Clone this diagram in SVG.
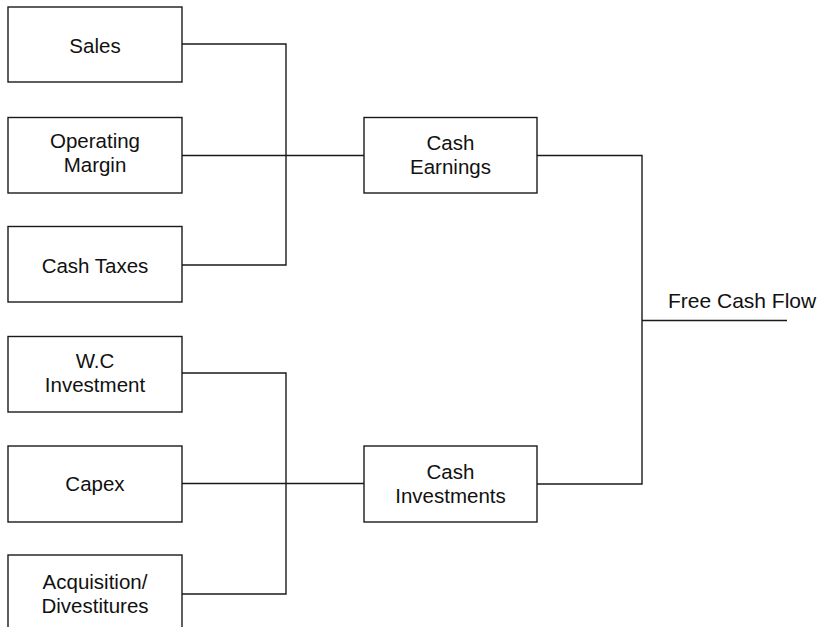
<svg xmlns="http://www.w3.org/2000/svg" width="820" height="627" viewBox="0 0 820 627">
  <style>
    .box { fill: #ffffff; stroke: #1a1a1a; stroke-width: 1.4; }
    .wire { fill: none; stroke: #1a1a1a; stroke-width: 1.4; }
    .lbl { font-family: "Liberation Sans", Arial, sans-serif; font-size: 20.5px; fill: #111111; text-anchor: middle; }
  </style>
  <rect width="820" height="627" fill="#ffffff"/>

  <!-- connectors -->
  <g id="connectors">
    <polyline class="wire" points="182,44 286,44 286,265 182,265"/>
    <line class="wire" x1="182" y1="155.5" x2="364" y2="155.5"/>
    <polyline class="wire" points="182,373 286,373 286,594 182,594"/>
    <line class="wire" x1="182" y1="483.5" x2="364" y2="483.5"/>
    <polyline class="wire" points="537,155.5 642,155.5 642,484 537,484"/>
    <line class="wire" x1="642" y1="320.5" x2="787" y2="320.5"/>
    <text class="lbl" x="668" y="308" style="text-anchor:start;font-size:21px">Free Cash Flow</text>
  </g>

  <!-- input nodes -->
  <g id="sales">
    <rect class="box" x="8" y="7" width="174" height="75"/>
    <text class="lbl" x="95" y="52.5">Sales</text>
  </g>
  <g id="operating-margin">
    <rect class="box" x="8" y="117.5" width="174" height="75.5"/>
    <text class="lbl" x="95" y="148">Operating</text>
    <text class="lbl" x="95" y="172">Margin</text>
  </g>
  <g id="cash-taxes">
    <rect class="box" x="8" y="226.5" width="174" height="75.5"/>
    <text class="lbl" x="95" y="272.5">Cash Taxes</text>
  </g>
  <g id="wc-investment">
    <rect class="box" x="8" y="336.5" width="174" height="75.5"/>
    <text class="lbl" x="95" y="367.5">W.C</text>
    <text class="lbl" x="95" y="392">Investment</text>
  </g>
  <g id="capex">
    <rect class="box" x="8" y="446" width="174" height="76"/>
    <text class="lbl" x="95" y="490.5">Capex</text>
  </g>
  <g id="acquisition-divestitures">
    <rect class="box" x="8" y="555" width="174" height="78"/>
    <text class="lbl" x="95" y="588.5">Acquisition/</text>
    <text class="lbl" x="95" y="612.5">Divestitures</text>
  </g>

  <!-- aggregate nodes -->
  <g id="cash-earnings">
    <rect class="box" x="364" y="117.5" width="173" height="75.5"/>
    <text class="lbl" x="450.5" y="150">Cash</text>
    <text class="lbl" x="450.5" y="173.5">Earnings</text>
  </g>
  <g id="cash-investments">
    <rect class="box" x="364" y="446" width="173" height="76"/>
    <text class="lbl" x="450.5" y="479">Cash</text>
    <text class="lbl" x="450.5" y="502.5">Investments</text>
  </g>
</svg>
